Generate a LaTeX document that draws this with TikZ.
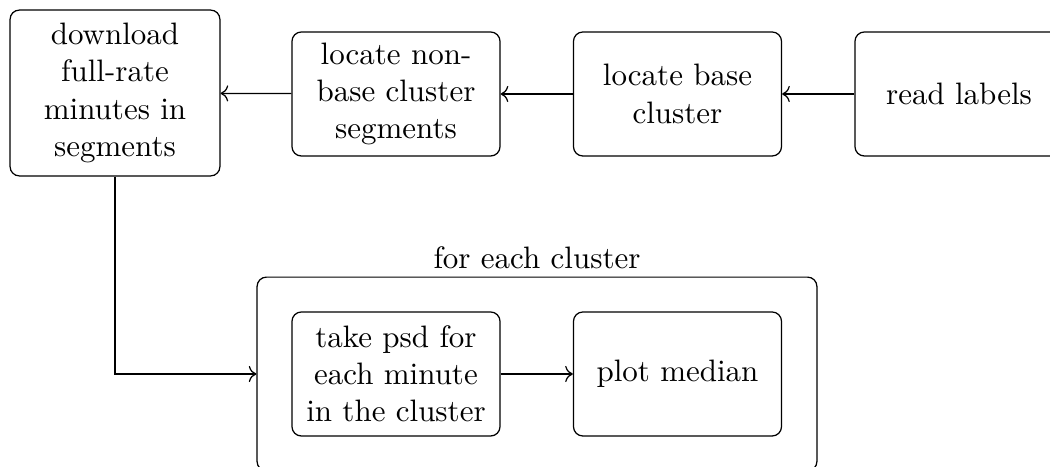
\documentclass[tikz,border=0pt]{standalone}
\usetikzlibrary{arrows.meta}
\begin{document}
\begin{tikzpicture}[x=0.3226pt,y=-0.3226pt,
  box/.style={draw,rounded corners=3pt,align=center,inner sep=0pt,line width=0.4pt},
  arr/.style={->,line width=0.4pt}]
\useasboundingbox (0,0) rectangle (1050,467);
\node[box,minimum width=67.7pt,minimum height=53.5pt] (dl) at (115,93) {download\\full-rate\\minutes in\\segments};
\node[box,minimum width=67.1pt,minimum height=40pt] (nb) at (396,94) {locate non-\\base cluster\\segments};
\node[box,minimum width=67.1pt,minimum height=40pt] (bc) at (677.5,94) {locate base\\cluster};
\node[box,minimum width=67.1pt,minimum height=40pt] (rl) at (959,94) {read labels};
\node[box,minimum width=180.6pt,minimum height=62.5pt] (ct) at (537,374) {};
\node (ctl) at (537,258) {for each cluster};
\node[box,minimum width=67.1pt,minimum height=40pt] (ps) at (396,374) {take psd for\\each minute\\in the cluster};
\node[box,minimum width=67.1pt,minimum height=40pt] (pm) at (677.5,374) {plot median};
\draw[arr] (rl) -- (bc);
\draw[arr] (bc) -- (nb);
\draw[arr] (nb) -- (dl);
\draw[arr] (dl.south) |- (ct.west);
\draw[arr] (ps) -- (pm);
\end{tikzpicture}
\end{document}
